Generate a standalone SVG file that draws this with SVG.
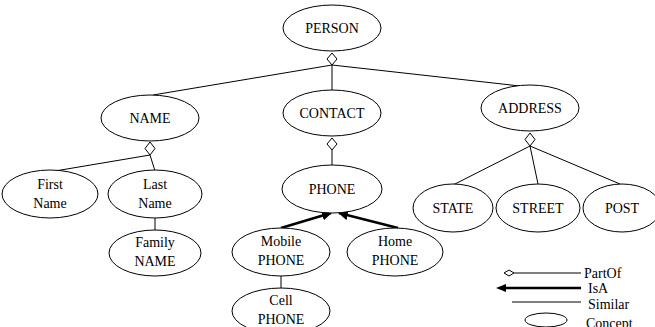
<svg xmlns="http://www.w3.org/2000/svg" width="655" height="327" viewBox="0 0 655 327">
<defs>
<style>
.n ellipse{fill:#fff;stroke:#000;stroke-width:1}
text{font-family:"Liberation Serif","Times New Roman",serif;font-size:14px;fill:#000;text-anchor:middle}
.lg text{text-anchor:start}
.c line{stroke:#000;stroke-width:1;fill:none}
.c .isa{stroke-width:2.5}
.dia{fill:#fff;stroke:#000;stroke-width:1}
</style>
<marker id="ah" viewBox="0 0 10 10" refX="9" refY="5" markerWidth="4" markerHeight="4" orient="auto" markerUnits="strokeWidth">
<path d="M0,0 L10,5 L0,10 z" fill="#000"/>
</marker>
</defs>
<rect width="655" height="327" fill="#fff"/>
<g class="c" id="connectors">
<line x1="332" y1="65" x2="153" y2="95"/>
<line x1="332" y1="65" x2="332" y2="90"/>
<line x1="332" y1="65" x2="520" y2="86"/>
<line x1="150" y1="155" x2="55" y2="171"/>
<line x1="150" y1="155" x2="155" y2="171"/>
<line x1="155" y1="218" x2="155" y2="230"/>
<line x1="332" y1="150" x2="332" y2="165"/>
<line class="isa" x1="281" y1="228" x2="331" y2="213" marker-end="url(#ah)"/>
<line class="isa" x1="398" y1="228" x2="339" y2="213" marker-end="url(#ah)"/>
<line x1="281" y1="276" x2="281" y2="288"/>
<line x1="530" y1="146" x2="453" y2="185"/>
<line x1="530" y1="146" x2="538" y2="184"/>
<line x1="530" y1="146" x2="620" y2="184"/>
<polygon class="dia" points="332,53 337,59 332,65 327,59"/>
<polygon class="dia" points="150,142 155,148.5 150,155 145,148.5"/>
<polygon class="dia" points="332,138 337,144 332,150 327,144"/>
<polygon class="dia" points="530,133 535,139.5 530,146 525,139.5"/>
</g>
<g class="n" id="person"><ellipse cx="332" cy="28" rx="49" ry="23"/><text x="332" y="33">PERSON</text></g>
<g class="n" id="name"><ellipse cx="150" cy="118" rx="49" ry="23"/><text x="150" y="123">NAME</text></g>
<g class="n" id="contact"><ellipse cx="332" cy="113" rx="49" ry="23"/><text x="332" y="118">CONTACT</text></g>
<g class="n" id="address"><ellipse cx="530" cy="108" rx="49" ry="23"/><text x="530" y="113">ADDRESS</text></g>
<g class="n" id="firstname"><ellipse cx="50" cy="194" rx="48" ry="24"/><text x="50" y="189">First</text><text x="50" y="208">Name</text></g>
<g class="n" id="lastname"><ellipse cx="155" cy="194" rx="47" ry="24"/><text x="155" y="189">Last</text><text x="155" y="208">Name</text></g>
<g class="n" id="familyname"><ellipse cx="155" cy="253" rx="46" ry="23"/><text x="155" y="247">Family</text><text x="155" y="266">NAME</text></g>
<g class="n" id="phone"><ellipse cx="332" cy="189" rx="50" ry="24"/><text x="332" y="194">PHONE</text></g>
<g class="n" id="mobilephone"><ellipse cx="281" cy="252" rx="49" ry="24"/><text x="281" y="246">Mobile</text><text x="281" y="265">PHONE</text></g>
<g class="n" id="homephone"><ellipse cx="395" cy="252" rx="48" ry="24"/><text x="395" y="246">Home</text><text x="395" y="265">PHONE</text></g>
<g class="n" id="cellphone"><ellipse cx="281" cy="311" rx="49" ry="23"/><text x="281" y="305">Cell</text><text x="281" y="324">PHONE</text></g>
<g class="n" id="state"><ellipse cx="453" cy="208" rx="40" ry="24"/><text x="453" y="213">STATE</text></g>
<g class="n" id="street"><ellipse cx="538" cy="208" rx="42" ry="24"/><text x="538" y="213">STREET</text></g>
<g class="n" id="post"><ellipse cx="622" cy="208" rx="39" ry="24"/><text x="622" y="213">POST</text></g>
<g class="lg" id="legend">
<polygon class="dia" points="504,273 509,270 514,273 509,276"/>
<line x1="514" y1="273" x2="581" y2="273" stroke="#000"/>
<text x="584" y="278">PartOf</text>
<line x1="581" y1="288" x2="505" y2="288" stroke="#000" stroke-width="2.5"/>
<polygon points="496,288 506,284 506,292" fill="#000"/>
<text x="588" y="293">IsA</text>
<line x1="512" y1="302" x2="581" y2="302" stroke="#000"/>
<text x="588" y="309">Similar</text>
<ellipse cx="546" cy="320" rx="21" ry="7" fill="#fff" stroke="#000"/>
<text x="586" y="328">Concept</text>
</g>
</svg>
